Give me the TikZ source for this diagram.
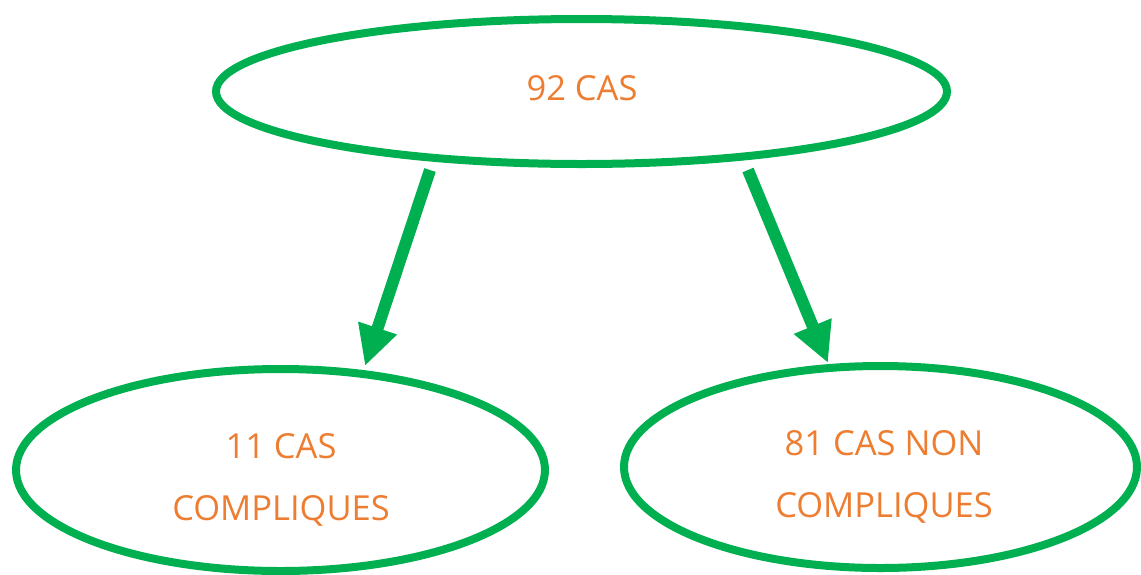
\documentclass[tikz,border=0pt]{standalone}
\usepackage{fontspec}
\setmainfont{Open Sans}
\usetikzlibrary{shapes.geometric,arrows.meta}
\definecolor{gr}{HTML}{00B050}
\definecolor{og}{HTML}{ED7D31}
\tikzset{
  oval/.style={ellipse,draw=gr,line width=8pt,inner sep=0pt},
  lbl/.style={text=og,font=\fontsize{34.5}{62}\selectfont,align=center},
  arr/.style={draw=gr,line width=12pt,-{Triangle[length=40pt,width=38pt]}}
}
\begin{document}
\begin{tikzpicture}[x=1pt,y=1pt]
\useasboundingbox (0,0) rectangle (1141,-574);
\node[oval,minimum width=731pt,minimum height=145pt] (top) at (581.5,-91.5) {};
\node[oval,minimum width=529pt,minimum height=202pt] (left) at (280.5,-470) {};
\node[oval,minimum width=513pt,minimum height=202pt] (right) at (880.5,-467) {};
\node[lbl] (t0) at (582,-88) {92 CAS};
\node[lbl] (t1) at (281,-480) {11 CAS\\COMPLIQUES};
\node[lbl] (t2) at (884,-477) {81 CAS NON\\COMPLIQUES};
\coordinate (s1) at (430,-170);
\coordinate (e1) at (365,-366);
\coordinate (s2) at (748,-170);
\coordinate (e2) at (828,-363);
\draw[arr] (s1) -- (e1);
\draw[arr] (s2) -- (e2);
\end{tikzpicture}
\end{document}
